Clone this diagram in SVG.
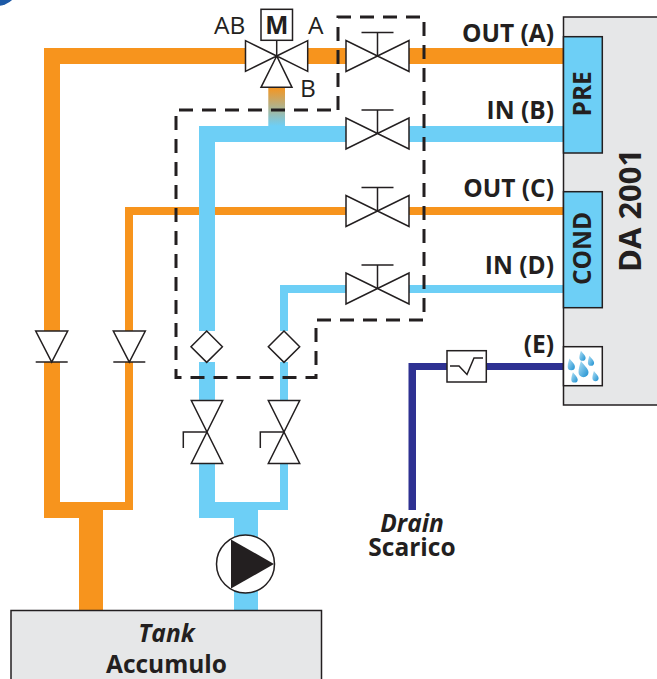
<svg xmlns="http://www.w3.org/2000/svg" width="657" height="679" viewBox="0 0 657 679">
<style>
.o{fill:#f7941d}.b{fill:#6dcff6}.n{fill:#2e3192}
.s{fill:#fff;stroke:#231f20;stroke-width:1.5;stroke-linejoin:miter}
.l{fill:none;stroke:#231f20;stroke-width:1.5}
.box{fill:#e6e7e8;stroke:#231f20;stroke-width:1.5}
.cell{fill:#6dcff6;stroke:#231f20;stroke-width:1.5}
.t{font-family:"Open Sans","Noto Sans",sans-serif;fill:#231f20;font-weight:700;font-size:24.5px}
.r{font-weight:400}
.i{font-style:italic}
.e{text-anchor:end}.m{text-anchor:middle}
</style>
<defs>
<linearGradient id="mix" x1="0" y1="0" x2="0" y2="1"><stop offset="0" stop-color="#f7941d"/><stop offset="1" stop-color="#6dcff6"/></linearGradient>
<linearGradient id="dropfill" x1="0" y1="0" x2="1" y2="1"><stop offset="0" stop-color="#b5e3f7"/><stop offset="1" stop-color="#1b8fd0"/></linearGradient>
<g id="gate"><path class="s" d="M-31.500-15.500V15.500L31.500-15.500V15.500Z"/><path class="l" d="M0 0V-23.500M-16-23.500H16"/></g>
<g id="lockvalve"><path class="s" d="M-15.700-31.500H15.700L-15.700 31.500H15.700Z"/><path class="l" d="M0 0H-23.700V16"/></g>
<g id="check"><path class="s" d="M-16 0H16L0 31Z"/><path class="l" d="M-16 31H16"/></g>
<path id="diamond" class="s" d="M0-15.700L15.700 0L0 15.700L-15.700 0Z"/>
<path id="drop" fill="url(#dropfill)" d="M-2-6C0-3 4 0 4 3A4 4 0 0 1-4 3C-4 0-3-3-2-6Z"/>
</defs>
<circle cx="-3" cy="-16" r="22" fill="#1d5aa6"/>

<g id="connectors">
<path class="o" d="M44 48H245.500V64H60V331H44ZM307.700 48H346V64H307.700ZM409 48H565V64H409ZM44 362H60V502H125V362H133V510H103V610H79V518H44Z"/>
<path class="o" d="M125 207H346V215H133V331H125ZM409 207H565V215H409Z"/>
<path class="b" d="M199 126H346V142H215V331H199ZM409 126H565V142H409ZM199 362H215V401H199ZM199 463H215V502H280V463H288V510H258V610H234V518H199Z"/>
<path class="b" d="M280 285H346V293H288V331H280ZM409 285H565V293H409ZM280 362H288V401H280Z"/>
<rect x="268.300" y="87" width="16.700" height="39" fill="url(#mix)"/>
<path class="n" d="M408.500 510V363H565V370H416V510Z"/>
<path d="M338 110V17H424V320H316V377.500H176V110Z" fill="none" stroke="#231f20" stroke-width="3" stroke-dasharray="14 9"/>
</g>

<g id="device-da2001">
<path class="box" d="M660 17H563.500V405H660"/>
<text class="t" transform="translate(641 272) rotate(-90)" style="font-size:31px">DA 2001</text>
</g>
<g id="pre"><rect class="cell" x="563.500" y="36.700" width="38.800" height="116.300"/><text class="t" transform="translate(591 116.500) rotate(-90)">PRE</text></g>
<g id="cond"><rect class="cell" x="563.500" y="191.700" width="38.800" height="116"/><text class="t" transform="translate(591 285) rotate(-90)">COND</text></g>
<g id="drops">
<rect class="s" x="563.500" y="346.700" width="38.800" height="39"/>
<use href="#drop" transform="translate(583.500 368.400) scale(1.250)"/>
<use href="#drop" transform="translate(591 360.400) scale(.78)"/>
<use href="#drop" transform="translate(582.500 355.400) scale(.78)"/>
<use href="#drop" transform="translate(571.300 364) scale(.9)"/>
<use href="#drop" transform="translate(574.500 377) scale(.8)"/>
<use href="#drop" transform="translate(595.500 375.700) scale(.78)"/>
</g>

<g id="mixing-valve">
<path class="s" d="M276.700 56L245.500 40.700V71.300ZM276.700 56L307.700 40.700V71.300ZM276.700 56L261 87.300H292Z"/>
<path class="l" d="M276.700 40V56"/>
<rect class="s" x="261" y="9.300" width="31.500" height="31"/>
<text class="t m" x="276.700" y="33.500">M</text>
<text class="t r" x="214" y="33.500">AB</text>
<text class="t r" x="308" y="33.500">A</text>
<text class="t r" x="300" y="97">B</text>
</g>

<g id="valve-a"><use href="#gate" x="377.500" y="56"/></g>
<g id="valve-b"><use href="#gate" x="377.500" y="133.500"/></g>
<g id="valve-c"><use href="#gate" x="377.500" y="211"/></g>
<g id="valve-d"><use href="#gate" x="377.500" y="288.500"/></g>

<g id="check-1"><use href="#check" x="51.700" y="331"/></g>
<g id="check-2"><use href="#check" x="129.300" y="331"/></g>
<g id="diamond-1"><use href="#diamond" x="206.700" y="346.700"/></g>
<g id="diamond-2"><use href="#diamond" x="284" y="346.700"/></g>
<g id="lock-valve-1"><use href="#lockvalve" x="207" y="432"/></g>
<g id="lock-valve-2"><use href="#lockvalve" x="284" y="432"/></g>

<g id="pump">
<circle class="s" cx="245.500" cy="564" r="29"/>
<path fill="#231f20" d="M231 539.500L274 564L231 588.500Z"/>
</g>

<g id="filter">
<rect class="s" x="447" y="350.700" width="39.300" height="31.300"/>
<path class="l" d="M450 366H459L467 374.500L474 358H483"/>
</g>

<g id="tank">
<rect class="box" x="11" y="610.500" width="310.500" height="80"/>
<text class="t i m" x="166.500" y="642">Tank</text>
<text class="t m" x="166.500" y="672.500">Accumulo</text>
</g>

<g id="labels">
<text class="t e" x="554" y="41.500">OUT (A)</text>
<text class="t e" x="554" y="119">IN (B)</text>
<text class="t e" x="554" y="197">OUT (C)</text>
<text class="t e" x="554" y="274">IN (D)</text>
<text class="t e" x="554" y="352.500">(E)</text>
<text class="t i m" x="412" y="532">Drain</text>
<text class="t m" x="412" y="556">Scarico</text>
</g>
</svg>
